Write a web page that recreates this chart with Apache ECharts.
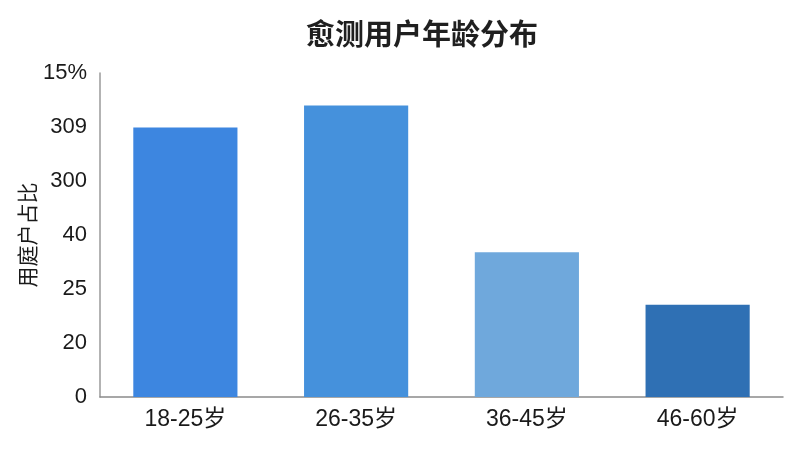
<!DOCTYPE html>
<html>
<head>
<meta charset="utf-8">
<script src="https://cdn.jsdelivr.net/npm/echarts@6/dist/echarts.min.js"></script>
<style>html,body{margin:0;padding:0;background:#fff}#c{width:800px;height:450px}</style>
</head>
<body>
<div id="c"></div>
<script>
const titleText = '愈测用户年龄分布';
const yAxisName = '用庭户占比';
const categories = ['18-25岁', '26-35岁', '36-45岁', '46-60岁'];
const values = [4.99, 5.40, 2.68, 1.71];
const barColors = ['#3d86e0', '#4591dc', '#6fa8dc', '#2f70b4'];
const yTickLabels = ['0', '20', '25', '40', '300', '309', '15%'];

const font = '"Liberation Sans","Noto Sans CJK SC",sans-serif';
const chart = echarts.init(document.getElementById('c'));
chart.setOption({
  animation: false,
  title: {
    text: titleText, left: 417, top: 17, textAlign: 'center',
    textStyle: { fontFamily: font, fontSize: 29, fontWeight: 'bold', color: '#1f1f1f' }
  },
  grid: { left: 100, right: 17, top: 73, bottom: 53 },
  xAxis: {
    type: 'category', data: categories,
    axisLine: { lineStyle: { color: '#8a8a8a', width: 1.5 } },
    axisTick: { alignWithLabel: true, length: 6, lineStyle: { color: '#666' } },
    axisLabel: { fontFamily: font, fontSize: 23, color: '#1a1a1a', margin: 11 }
  },
  yAxis: {
    type: 'value', min: 0, max: 6, interval: 1,
    name: yAxisName, nameLocation: 'middle', nameGap: 60, nameRotate: 90,
    nameMoveOverlap: false,
    nameTextStyle: { fontFamily: font, fontSize: 21, color: '#1a1a1a' },
    axisLine: { show: true, lineStyle: { color: '#9a9a9a', width: 1.5 } },
    axisTick: { show: false },
    splitLine: { show: false },
    axisLabel: {
      fontFamily: font, fontSize: 22, color: '#1a1a1a', margin: 13,
      formatter: v => yTickLabels[Math.round(v)]
    }
  },
  series: [{
    type: 'bar', barWidth: '61%',
    data: values.map((v, i) => ({ value: v, itemStyle: { color: barColors[i] } }))
  }]
});
</script>
</body>
</html>
